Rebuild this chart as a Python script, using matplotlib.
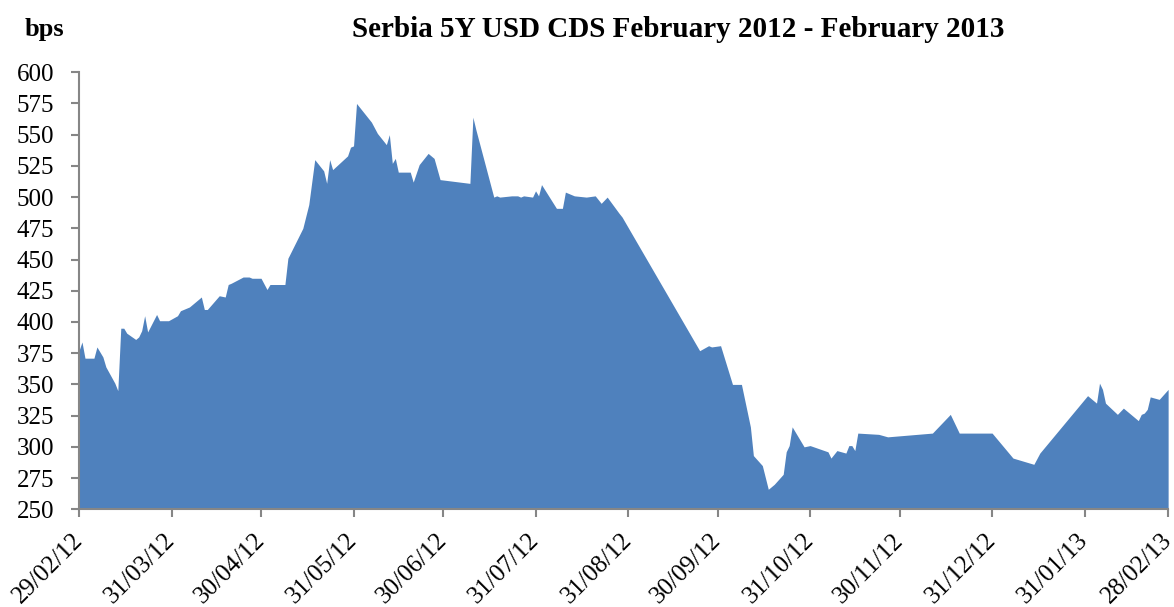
import matplotlib
matplotlib.use("Agg")
import matplotlib.pyplot as plt
import matplotlib.dates as mdates
import pandas as pd

plt.rcParams['font.family'] = ['Liberation Serif', 'DejaVu Serif']

# Serbia 5Y USD CDS quotes, bps
dates = [
    "29/02/12", "01/03/12", "02/03/12", "05/03/12", "06/03/12", "08/03/12", "09/03/12",
    "12/03/12", "13/03/12", "14/03/12", "15/03/12", "16/03/12", "19/03/12", "20/03/12",
    "21/03/12", "22/03/12", "23/03/12", "26/03/12", "27/03/12", "28/03/12", "30/03/12",
    "02/04/12", "03/04/12", "06/04/12", "10/04/12", "11/04/12", "12/04/12", "16/04/12",
    "18/04/12", "19/04/12", "20/04/12", "24/04/12", "26/04/12", "27/04/12", "30/04/12",
    "02/05/12", "03/05/12", "08/05/12", "09/05/12", "14/05/12", "16/05/12", "18/05/12",
    "21/05/12", "22/05/12", "23/05/12", "24/05/12", "29/05/12", "30/05/12", "31/05/12",
    "01/06/12", "06/06/12", "08/06/12", "11/06/12", "12/06/12", "13/06/12", "14/06/12",
    "15/06/12", "19/06/12", "20/06/12", "22/06/12", "25/06/12", "27/06/12", "29/06/12",
    "09/07/12", "10/07/12", "11/07/12", "17/07/12", "18/07/12", "19/07/12", "23/07/12",
    "25/07/12", "26/07/12", "27/07/12", "30/07/12", "31/07/12", "01/08/12", "02/08/12",
    "07/08/12", "09/08/12", "10/08/12", "13/08/12", "17/08/12", "20/08/12", "22/08/12",
    "24/08/12", "28/08/12", "29/08/12", "24/09/12", "27/09/12", "28/09/12", "01/10/12",
    "05/10/12", "08/10/12", "11/10/12", "12/10/12", "15/10/12", "17/10/12", "19/10/12",
    "22/10/12", "23/10/12", "24/10/12", "25/10/12", "29/10/12", "31/10/12", "06/11/12",
    "07/11/12", "09/11/12", "12/11/12", "13/11/12", "14/11/12", "15/11/12", "16/11/12",
    "23/11/12", "26/11/12", "11/12/12", "17/12/12", "20/12/12", "27/12/12", "31/12/12",
    "07/01/13", "14/01/13", "16/01/13", "01/02/13", "04/02/13", "05/02/13", "06/02/13",
    "07/02/13", "11/02/13", "13/02/13", "18/02/13", "19/02/13", "20/02/13", "21/02/13",
    "22/02/13", "25/02/13", "28/02/13",
]
cds = [
    377, 384, 371, 371, 380, 372, 364,
    351, 345, 395, 395, 391, 386, 388,
    393, 405, 392, 406, 401, 401, 401,
    405, 409, 412, 420, 410, 410, 421,
    420, 430, 431, 436, 436, 435, 435,
    426, 430, 430, 451, 475, 494, 530,
    521, 511, 530, 522, 533, 540, 541,
    575, 560, 551, 542, 550, 527, 531,
    520, 520, 512, 526, 535, 531, 514,
    511, 564, 554, 500, 501, 500, 501,
    501, 500, 501, 500, 505, 501, 510,
    491, 491, 504, 501, 500, 501, 495,
    500, 487, 484, 377, 381, 380, 381,
    350, 350, 316, 293, 285, 266, 270,
    278, 296, 301, 316, 300, 301, 296,
    291, 297, 295, 301, 301, 297, 311,
    310, 308, 311, 326, 311, 311, 311,
    291, 286, 295, 341, 335, 351, 346,
    335, 326, 331, 321, 326, 327, 330,
    340, 338, 346,
]
tick_dates = ["29/02/12", "31/03/12", "30/04/12", "31/05/12", "30/06/12", "31/07/12",
              "31/08/12", "30/09/12", "31/10/12", "30/11/12", "31/12/12", "31/01/13",
              "28/02/13"]

x = pd.to_datetime(dates, format="%d/%m/%y")
ticks = pd.to_datetime(tick_dates, format="%d/%m/%y")

fig = plt.figure(figsize=(11.74, 6.07), dpi=100)
ax = fig.add_axes([0.0673, 0.161, 0.9277, 0.72])

ax.fill_between(x, cds, 250, color="#4F81BD", linewidth=0)

ax.set_ylim(250, 600)
ax.set_yticks(range(250, 601, 25))
ax.set_xlim(ticks[0], ticks[-1])
ax.set_xticks(ticks)
ax.xaxis.set_major_formatter(mdates.DateFormatter("%d/%m/%y"))

for side in ["top", "right"]:
    ax.spines[side].set_visible(False)
for side in ["left", "bottom"]:
    ax.spines[side].set_color("#868686")
    ax.spines[side].set_linewidth(1.5)

ax.tick_params(axis="y", length=6, width=1.5, color="#868686", labelsize=18, pad=12)
ax.tick_params(axis="x", length=6, width=1.5, color="#868686", labelsize=18, pad=14)
for lbl in ax.get_xticklabels():
    lbl.set_rotation(45)
    lbl.set_ha("right")
    lbl.set_va("center")
    lbl.set_rotation_mode("anchor")

fig.text(0.578, 0.951, "Serbia 5Y USD CDS February 2012 - February 2013",
         ha="center", va="center", fontsize=21, fontweight="bold")
fig.text(0.021, 0.951, "bps", ha="left", va="center", fontsize=19, fontweight="bold")

fig.savefig("out.png", dpi=100)
